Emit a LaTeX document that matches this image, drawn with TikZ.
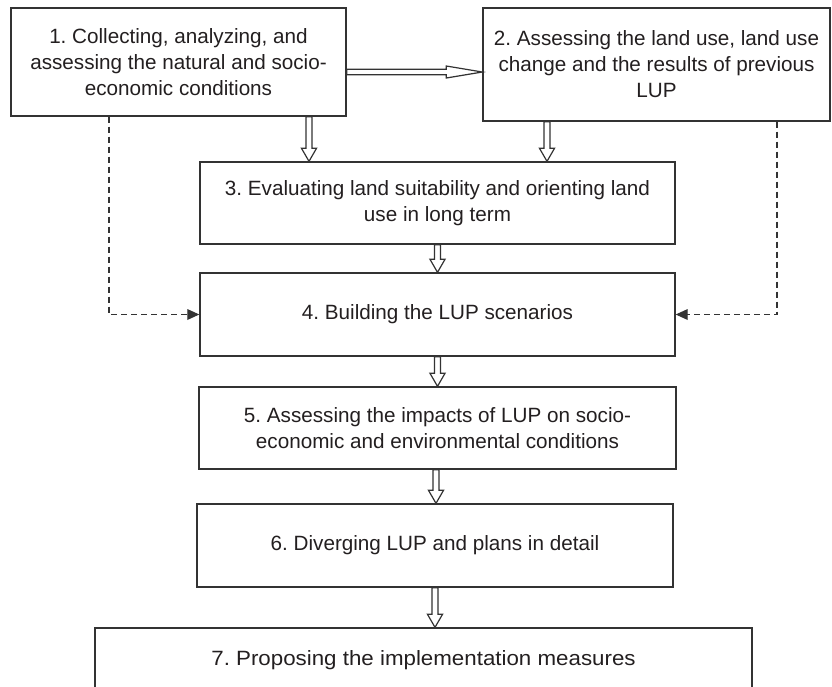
\documentclass[tikz,border=0pt]{standalone}
\usepackage{fontspec}
\setmainfont{Liberation Sans}
\frenchspacing
\usetikzlibrary{calc,arrows.meta}

\definecolor{inkline}{HTML}{333333}
\definecolor{inktext}{HTML}{231F20}

% Hollow block arrow pointing down: #1 start on the upper box edge, #2 tip on the lower box edge
\newcommand\hollowdown[2]{%
  \draw[hollowarrow] ($#1+(-3,0)$) -- ($#2+(-3,-13)$) -- ($#2+(-7.5,-13)$) -- #2
    -- ($#2+(7.5,-13)$) -- ($#2+(3,-13)$) -- ($#1+(3,0)$) -- cycle;}
% Hollow block arrow pointing right, long narrow head
\newcommand\hollowright[2]{%
  \draw[hollowarrow] ($#1+(0,-2.7)$) -- ($#2+(-36,-2.7)$) -- ($#2+(-36,-6)$) -- #2
    -- ($#2+(-36,6)$) -- ($#2+(-36,2.7)$) -- ($#1+(0,2.7)$) -- cycle;}

\begin{document}
\begin{tikzpicture}[x=0.75pt,y=-0.75pt,
  stepbox/.style={draw=inkline, line width=1pt, fill=white, inner sep=0pt,
    align=center, text=inktext, font=\fontsize{15.5}{19.5}\selectfont},
  hollowarrow/.style={draw=inkline, line width=0.9pt, fill=white, line join=miter},
  feedback/.style={draw=inkline, line width=0.9pt, dash pattern=on 4.5pt off 3pt,
    -{Triangle[length=9pt,width=8pt]}}]
\useasboundingbox (0,0) rectangle (832,686);
\clip (0,0) rectangle (832,686);
\fill[white] (0,0) rectangle (832,686);

% process boxes
\node[stepbox, minimum width=335*0.75pt, minimum height=108*0.75pt] (b1) at (178.5,62)
  {1. Collecting, analyzing, and\\assessing the natural and socio-\\economic conditions};
\node[stepbox, minimum width=347*0.75pt, minimum height=113*0.75pt] (b2) at (656.5,64.5)
  {2. Assessing the land use, land use\\change and the results of previous\\LUP};
\node[stepbox, minimum width=475*0.75pt, minimum height=82*0.75pt] (b3) at (437.5,203)
  {3. Evaluating land suitability and orienting land\\use in long term};
\node[stepbox, minimum width=475*0.75pt, minimum height=83*0.75pt] (b4) at (437.5,314.5)
  {4. Building the LUP scenarios};
\node[stepbox, minimum width=477*0.75pt, minimum height=82*0.75pt] (b5) at (437.5,428)
  {5. Assessing the impacts of LUP on socio-\\economic and environmental conditions};
\node[stepbox, minimum width=476*0.75pt, minimum height=83*0.75pt] (b6) at (435,545.5)
  {6. Diverging LUP and plans in detail};
\node[stepbox, minimum width=657*0.75pt, minimum height=64*0.75pt,
  font=\fontsize{15.5}{19.5}\selectfont\addfontfeature{FakeStretch=1.08}] (b7) at (423.5,660)
  {7. Proposing the implementation measures};

% guide columns for connectors
\coordinate (c13) at (309,0);
\coordinate (c23) at (547,0);
\coordinate (c56) at (436,0);
\coordinate (row12) at (0,72);
\coordinate (dl) at (109,0);
\coordinate (dr) at (777,0);

% main flow
\hollowright{(b1.east |- row12)}{(b2.west |- row12)}
\hollowdown{(b1.south -| c13)}{(b3.north -| c13)}
\hollowdown{(b2.south -| c23)}{(b3.north -| c23)}
\hollowdown{(b3.south)}{(b4.north)}
\hollowdown{(b4.south)}{(b5.north)}
\hollowdown{(b5.south -| c56)}{(b6.north -| c56)}
\hollowdown{(b6.south)}{(b7.north -| b6.south)}

% feedback links into the scenarios
\draw[feedback] (b1.south -| dl) |- (b4.west);
\draw[feedback] (b2.south -| dr) |- (b4.east);
\end{tikzpicture}
\end{document}
